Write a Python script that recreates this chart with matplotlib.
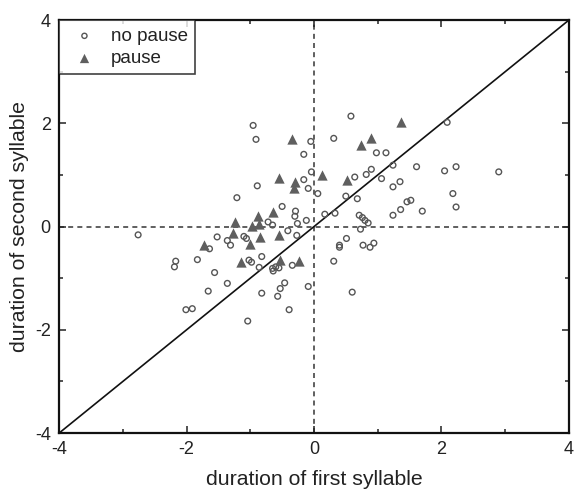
import matplotlib
matplotlib.use("Agg")
import matplotlib.pyplot as plt
from matplotlib.ticker import MultipleLocator

plt.rcParams['font.family'] = ['Liberation Sans', 'DejaVu Sans']
plt.rcParams['axes.unicode_minus'] = False

# Normalised syllable durations, utterances without a pause
no_pause_x = [-2.76, -2.17, -2.19, -1.83, -2.01, -1.91, -1.64, -1.52, -1.36, -1.31,
              -1.10, -1.06, -1.56, -1.36, -1.66, -1.04, -1.02, -0.98, -0.82, -0.86,
              -0.65, -0.60, -0.55, -0.64, -0.34, -0.82, -0.46, -0.53, -0.57, -0.09,
              -0.39, -0.41, -0.27, -0.72, -0.65, -0.26, -0.12,
              -0.955, -0.91, -0.05, -0.16, -0.04, -0.16, -0.09, -0.89, -1.21, -0.50,
              -0.29, -0.30,
              0.06, 0.58, 0.31, 0.98, 1.13, 1.61, 0.90, 0.82, 1.24, 0.64, 1.06, 1.35,
              1.24, 0.50, 0.68, 1.46, 1.52, 0.17, 0.33, 1.24, 1.36, 0.71, 0.76, 0.80,
              0.85, 0.73, 0.51, 0.40, 0.40, 0.77, 0.94, 0.88, 0.31, 0.60,
              2.09, 2.05, 2.23, 2.90, 2.18, 2.23, 1.70]
no_pause_y = [-0.16, -0.67, -0.78, -0.64, -1.61, -1.59, -0.43, -0.20, -0.27, -0.36,
              -0.19, -0.23, -0.89, -1.10, -1.25, -1.83, -0.65, -0.69, -0.58, -0.79,
              -0.81, -0.78, -0.80, -0.86, -0.75, -1.29, -1.09, -1.20, -1.35, -1.16,
              -1.61, -0.08, -0.17, 0.09, 0.03, 0.06, 0.12,
              1.96, 1.69, 1.65, 1.40, 1.06, 0.91, 0.74, 0.79, 0.56, 0.39,
              0.30, 0.20,
              0.64, 2.14, 1.71, 1.43, 1.43, 1.16, 1.11, 1.01, 1.19, 0.96, 0.93, 0.87,
              0.77, 0.59, 0.54, 0.48, 0.51, 0.24, 0.26, 0.22, 0.33, 0.22, 0.175, 0.12,
              0.07, -0.05, -0.23, -0.36, -0.40, -0.36, -0.32, -0.40, -0.67, -1.27,
              2.02, 1.08, 1.16, 1.06, 0.64, 0.38, 0.30]

# Utterances with a pause between the syllables
pause_x = [1.37, 0.89, 0.74, 0.13, 0.52, -0.34, -0.55, -0.30, -0.32, -0.64, -0.88,
           -1.24, -0.98, -0.87, -1.27, -0.85, -0.55, -1.00, -1.72, -1.14, -0.53, -0.23]
pause_y = [2.03, 1.71, 1.59, 1.00, 0.90, 1.69, 0.95, 0.86, 0.74, 0.28, 0.20,
           0.09, 0.02, 0.05, -0.12, -0.20, -0.17, -0.34, -0.36, -0.69, -0.64, -0.67]

axis_limits = [-4, 4]
major_ticks = [-4, -2, 0, 2, 4]

fig = plt.figure(figsize=(5.74, 4.91), dpi=100)
ax = fig.add_axes([0.103, 0.118, 0.888, 0.841])

ax.plot(axis_limits, axis_limits, color='#111111', lw=1.2, zorder=2)
ax.axhline(0, color='#444444', lw=1.2, ls=(0, (3, 2.5)), zorder=1)
ax.axvline(0, color='#444444', lw=1.2, ls=(0, (3, 2.5)), zorder=1)

ax.scatter(no_pause_x, no_pause_y, s=17, facecolors='none', edgecolors='#555555',
           linewidths=1.0, marker='o', label='no pause', zorder=3)
ax.scatter(pause_x, pause_y, s=55, color='#5f5f5f', marker='^',
           linewidths=0, label='pause', zorder=4)

ax.set_xlim(axis_limits)
ax.set_ylim(axis_limits)
ax.set_xticks(major_ticks)
ax.set_yticks(major_ticks)
ax.xaxis.set_minor_locator(MultipleLocator(1))
ax.yaxis.set_minor_locator(MultipleLocator(1))
ax.tick_params(which='both', direction='in', top=True, right=True,
               colors='#222222', labelsize=13)
ax.tick_params(which='major', length=5, width=1.1, pad=6)
ax.tick_params(which='minor', length=3, width=1.1)
for s in ax.spines.values():
    s.set_linewidth(1.6)
    s.set_color('#111111')

ax.set_xlabel('duration of first syllable', fontsize=15.3, color='#222222', labelpad=8)
ax.set_ylabel('duration of second syllable', fontsize=15.3, color='#222222', labelpad=4)

leg = ax.legend(loc='upper left', fontsize=13.5, frameon=True, fancybox=False,
                edgecolor='#111111', borderaxespad=0, handlelength=1.9,
                handletextpad=0.45, borderpad=0.4, labelspacing=0.25,
                markerscale=0.9)
leg.get_frame().set_linewidth(1.2)
for t in leg.get_texts():
    t.set_color('#222222')

fig.savefig('out.png', dpi=100)
